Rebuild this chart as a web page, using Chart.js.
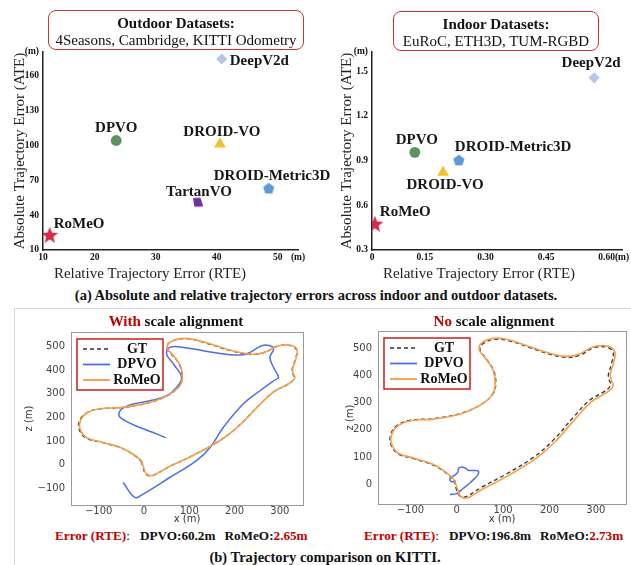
<!DOCTYPE html>
<html>
<head>
<meta charset="utf-8">
<script src="https://cdn.jsdelivr.net/npm/chart.js@4.4.0/dist/chart.umd.min.js"></script>
<style>
  body { margin: 0; background: #fff; }
  #page { position: relative; width: 631px; height: 565px; overflow: hidden; background: #fff;
          font-family: "Liberation Serif", "Times New Roman", serif; color: #111; }
  canvas { position: absolute; }
  .box { position: absolute; box-sizing: border-box; border: 1.5px solid #cc3333; border-radius: 8px; text-align: center; }
  .box .l1 { font-weight: bold; font-size: 15px; line-height: 17px; margin-top: 4px; }
  .box .l2 { font-size: 15px; line-height: 17px; }
  .t { position: absolute; white-space: nowrap; font-weight: bold; transform: translate(-50%, -50%); }
  .err { position: absolute; white-space: nowrap; font-weight: bold; font-size: 13.2px; transform: translateY(-50%); }
  .red { color: #c00000; }
  .plain { font-weight: normal; }
  #frame { position: absolute; left: 14px; top: 308px; width: 700px; height: 400px; border: 1px solid #d6d6d6; }
</style>
</head>
<body>
<div id="page">
  <div id="frame"></div>

  <canvas id="outdoor" width="345" height="285" style="left:0;top:0"></canvas>
  <canvas id="indoor" width="301" height="285" style="left:330px;top:0"></canvas>
  <canvas id="aligned" width="300" height="218" style="left:16px;top:310px"></canvas>
  <canvas id="raw" width="309" height="218" style="left:322px;top:310px"></canvas>

  <div class="box" style="left:48px;top:10px;width:256px;height:40px">
    <div class="l1">Outdoor Datasets:</div>
    <div class="l2">4Seasons, Cambridge, KITTI Odometry</div>
  </div>
  <div class="box" style="left:393px;top:11px;width:206px;height:40px">
    <div class="l1">Indoor Datasets:</div>
    <div class="l2">EuRoC, ETH3D, TUM-RGBD</div>
  </div>

  <div class="t" style="left:316px;top:295px;font-size:14.5px">(a) Absolute and relative trajectory errors across indoor and outdoor datasets.</div>

  <div class="t" style="left:176px;top:321px;font-size:15px"><span class="red">With</span> scale alignment</div>
  <div class="t" style="left:494px;top:321px;font-size:15px"><span class="red">No</span> scale alignment</div>

  <div class="err" style="left:55px;top:536px"><span class="red">Error (RTE)</span><span class="plain">:</span><span style="margin-left:10px">DPVO:60.2m</span><span style="margin-left:9px">RoMeO:<span class="red">2.65m</span></span></div>
  <div class="err" style="left:364px;top:536px"><span class="red">Error (RTE)</span><span class="plain">:</span><span style="margin-left:10px">DPVO:196.8m</span><span style="margin-left:9px">RoMeO:<span class="red">2.73m</span></span></div>

  <div class="t" style="left:325px;top:557px;font-size:14.5px">(b) Trajectory comparison on KITTI.</div>
</div>

<script>
// ---- (a) scatter data: RTE (x) vs ATE (y), metres ----
const methods = ['RoMeO', 'DPVO', 'DROID-VO', 'DROID-Metric3D', 'TartanVO', 'DeepV2d'];
const outdoorRTE = [12.6, 23.5, 40.5, 48.5, 36.9, 40.8];
const outdoorATE = [23, 104, 101, 63, 51, 174];
const indoorRTE = [0.026, 0.125, 0.195, 0.234, null, 0.569];
const indoorATE = [0.476, 0.955, 0.82, 0.903, null, 1.455];

// the figure's x axes start at a labelled origin that is not to scale
const outdoorXTicks = [11.5, 20, 30, 40, 50, 53.3];
const outdoorXLabels = ['10', '20', '30', '40', '50', '(m)'];
const outdoorYTicks = [10, 40, 70, 100, 130, 160, 180];
const outdoorYLabels = ['10', '40', '70', '100', '130', '160', '(m)'];
const indoorXTicks = [0.019, 0.15, 0.30, 0.45, 0.60, 0.638];
const indoorXLabels = ['0', '0.15', '0.30', '0.45', '0.60', '(m)'];
const indoorYTicks = [0.3, 0.6, 0.9, 1.2, 1.5, 1.628];
const indoorYLabels = ['0.3', '0.6', '0.9', '1.2', '1.5', '(m)'];

// ---- (b) KITTI trajectories, [x, z] in metres ----
const pathGT = [[-6,15],[-2,-12],[3,-36],[12,-47],[24,-42],[52,-12],[108,39],[166,100],[208,162],[252,247],
  [287,309],[317,339],[332,364],[328,385],[327,402],[334,444],[337,484],[323,503],[295,500],[266,474],
  [238,465],[194,480],[151,505],[108,528],[80,531],[57,516],[50,493],[61,466],[79,419],[84,364],
  [76,327],[50,290],[8,260],[-50,241],[-100,235],[-128,217],[-142,186],[-143,150],[-128,113],[-93,94],
  [-50,70],[-21,39],[-6,15]];
const pathRomeoAligned = [[-5,16],[-1,-11],[4,-35],[13,-46],[25,-41],[53,-11],[109,40],[167,101],[209,163],[253,248],
  [288,310],[318,340],[333,365],[329,386],[328,403],[335,445],[338,485],[324,504],[296,501],[267,475],
  [239,466],[195,481],[152,506],[109,529],[81,532],[58,517],[51,494],[62,467],[80,420],[85,365],
  [77,328],[51,291],[9,261],[-49,242],[-99,236],[-126,218],[-140,187],[-141,151],[-126,114],[-92,95],
  [-49,71],[-20,40],[-5,16]];
const pathDpvoAligned = [[-46,-75],[-20,-138],[-2,-124],[57,-54],[116,17],[146,73],[175,157],[219,256],[256,312],[286,354],
  [297,368],[286,410],[278,453],[286,488],[278,502],[260,502],[234,474],[219,464],[190,464],[131,481],
  [87,495],[57,495],[50,467],[65,425],[83,368],[72,326],[50,291],[13,270],[-24,256],[-49,235],
  [-55,207],[-42,186],[-9,157],[28,130],[48,113]];
const pathRomeoRaw = [[-5,14],[1,-14],[6,-39],[15,-50],[28,-46],[56,-17],[112,33],[170,94],[212,156],[256,241],
  [291,303],[321,334],[337,360],[333,383],[331,402],[338,445],[341,486],[325,507],[295,504],[265,478],
  [237,469],[193,484],[150,509],[107,532],[79,535],[55,520],[48,494],[60,466],[78,419],[83,364],
  [75,326],[49,289],[8,258],[-50,239],[-99,233],[-126,216],[-140,186],[-141,150],[-126,114],[-92,96],
  [-49,72],[-20,40],[-5,14]];
const pathDpvoRaw = [[-15,-37],[-1,-34],[13,-16],[27,3],[38,21],[46,37],[46,49],[34,51],[25,51],[19,59],
  [11,64],[4,59],[2,44],[-6,32],[-15,22],[-12,10],[-2,12]];
const trajXTicks = [-100, 0, 100, 200, 300];
const trajZTicksAligned = [-100, 0, 100, 200, 300, 400, 500];
const trajZTicksRaw = [0, 100, 200, 300, 400, 500];

// ---- styles ----
const SERIF = '"Liberation Serif", "Times New Roman", serif';
const SANS = '"DejaVu Sans", sans-serif';
const markerColor = {
  'RoMeO': '#d42a4c', 'DPVO': '#5e915e', 'DROID-VO': '#f2c12e',
  'DROID-Metric3D': '#5b9bd5', 'TartanVO': '#7030a0', 'DeepV2d': '#b4c6e7'
};
const outdoorLabelPos = {
  'RoMeO': [4, -11, 'left'], 'DPVO': [0, -12, 'center'], 'DROID-VO': [2, -12, 'center'],
  'DROID-Metric3D': [-55, -12, 'left'], 'TartanVO': [1, -10, 'center'], 'DeepV2d': [8, 2, 'left']
};
const indoorLabelPos = {
  'RoMeO': [5, -12, 'left'], 'DPVO': [2, -12, 'center'], 'DROID-VO': [2, 13, 'center'],
  'DROID-Metric3D': [-4, -13, 'left'], 'DeepV2d': [-3, -15, 'center']
};

function polyImage(pts, color, w, h) {
  const c = document.createElement('canvas');
  c.width = w; c.height = h;
  const g = c.getContext('2d');
  g.fillStyle = color;
  g.beginPath();
  pts.forEach((p, i) => i ? g.lineTo(p[0] + w / 2, p[1] + h / 2) : g.moveTo(p[0] + w / 2, p[1] + h / 2));
  g.closePath();
  g.fill();
  return c;
}
function ringPoints(n, R, r) {
  const pts = [];
  const k = r ? n * 2 : n;
  for (let i = 0; i < k; i++) {
    const a = -Math.PI / 2 + i * 2 * Math.PI / k;
    const rad = (r && i % 2) ? r : R;
    pts.push([rad * Math.cos(a), rad * Math.sin(a)]);
  }
  return pts;
}
function marker(m) {
  const c = markerColor[m];
  if (m === 'RoMeO') return { style: polyImage(ringPoints(5, 8.8, 3.8).map(p => [p[0], p[1] + 0.8]), c, 20, 20), r: 8 };
  if (m === 'DROID-Metric3D') return { style: polyImage(ringPoints(5, 5.9).map(p => [p[0], p[1] + 0.5]), c, 14, 14), r: 6 };
  if (m === 'TartanVO') return { style: polyImage([[-5, -4.3], [2.5, -4.6], [5.2, 4.2], [-3.6, 4.5]], c, 12, 12), r: 5 };
  if (m === 'DPVO') return { style: 'circle', r: 5.4 };
  if (m === 'DROID-VO') return { style: 'triangle', r: 6.8 };
  return { style: 'rectRot', r: 5.6 };
}

function setTicks(values) {
  return scale => { scale.ticks = values.map(v => ({ value: v })); };
}
function fixSize(w, h) {
  return scale => {
    if (w != null) scale.width = w;
    if (h != null) scale.height = h;
    scale.paddingLeft = scale.paddingRight = scale.paddingTop = scale.paddingBottom = 0;
  };
}

const pointLabels = {
  id: 'pointLabels',
  afterDatasetsDraw(chart, args, opts) {
    const ctx = chart.ctx;
    ctx.save();
    ctx.font = 'bold 15px ' + SERIF;
    ctx.fillStyle = '#161616';
    ctx.textBaseline = 'middle';
    chart.data.datasets.forEach((ds, i) => {
      const el = chart.getDatasetMeta(i).data[0];
      const o = opts.pos[ds.label];
      if (!el || !o) return;
      ctx.textAlign = o[2];
      ctx.fillText(ds.label, el.x + o[0], el.y + o[1]);
    });
    ctx.restore();
  }
};
const xTitle = {
  id: 'xTitle',
  afterDraw(chart, args, opts) {
    const ctx = chart.ctx;
    ctx.save();
    ctx.font = '15px ' + SERIF;
    ctx.fillStyle = '#222';
    ctx.textAlign = 'center';
    ctx.textBaseline = 'alphabetic';
    ctx.fillText(opts.text, chart.chartArea.left + opts.dx, opts.y);
    ctx.restore();
  }
};

function tickFont(size) { return { family: SERIF, size: size, weight: 'bold' }; }

function scatterChart(id, xs, ys, xT, xL, yT, yL, labelPos, pad, yW, yTitlePad) {
  const datasets = [];
  methods.forEach((m, i) => {
    if (xs[i] == null) return;
    const mk = marker(m);
    datasets.push({
      label: m, data: [{ x: xs[i], y: ys[i] }],
      pointStyle: mk.style, pointRadius: mk.r, pointHoverRadius: mk.r,
      backgroundColor: markerColor[m], borderColor: markerColor[m], borderWidth: 0
    });
  });
  return new Chart(document.getElementById(id), {
    type: 'scatter',
    data: { datasets },
    options: {
      responsive: false, animation: false, devicePixelRatio: 1,
      layout: { padding: pad },
      plugins: {
        legend: { display: false }, tooltip: { enabled: false },
        pointLabels: { pos: labelPos },
        xTitle: { text: 'Relative Trajectory Error (RTE)', dx: 107, y: 278 }
      },
      scales: {
        x: {
          type: 'linear', min: xT[0], max: xT[xT.length - 1],
          afterBuildTicks: setTicks(xT), afterFit: fixSize(null, 35),
          grid: { display: false, drawTicks: false },
          border: { display: true, color: '#222', width: 1.5 },
          ticks: { autoSkip: false, maxRotation: 0, padding: 2, color: '#111', font: tickFont(9.5),
                   callback: (v, i) => xL[i] }
        },
        y: {
          type: 'linear', min: yT[0], max: yT[yT.length - 1],
          afterBuildTicks: setTicks(yT), afterFit: fixSize(yW, null),
          grid: { display: false, drawTicks: false },
          border: { display: true, color: '#222', width: 1.5 },
          ticks: { autoSkip: false, padding: 4, color: '#111', font: tickFont(9.5),
                   callback: (v, i) => yL[i] },
          title: { display: true, text: 'Absolute Trajectory Error (ATE)', color: '#222',
                   font: { family: SERIF, size: 15 }, padding: { top: yTitlePad, bottom: 0 } }
        }
      }
    },
    plugins: [pointLabels, xTitle]
  });
}

const frame = {
  id: 'frame',
  afterDraw(chart) {
    const { ctx, chartArea: a } = chart;
    ctx.save();
    ctx.strokeStyle = '#9a9a9a';
    ctx.lineWidth = 1;
    ctx.strokeRect(Math.round(a.left) + 0.5, Math.round(a.top) + 0.5, Math.round(a.width), Math.round(a.height));
    ctx.restore();
  }
};
const boxLegend = {
  id: 'boxLegend',
  afterDraw(chart) {
    const { ctx, chartArea: a } = chart;
    const x0 = a.left + 6, y0 = a.top + 7, w = 86, h = 51;
    ctx.save();
    ctx.fillStyle = '#fff';
    ctx.fillRect(x0, y0, w, h);
    ctx.strokeStyle = '#c81e1e';
    ctx.lineWidth = 1.5;
    ctx.strokeRect(x0, y0, w, h);
    chart.data.datasets.forEach((ds, i) => {
      const y = y0 + 10 + i * 15.5;
      ctx.strokeStyle = ds.borderColor;
      ctx.lineWidth = ds.borderWidth + 0.3;
      ctx.setLineDash(ds.borderDash || []);
      ctx.beginPath();
      ctx.moveTo(x0 + 6, y);
      ctx.lineTo(x0 + 33, y);
      ctx.stroke();
      ctx.setLineDash([]);
      ctx.fillStyle = '#111';
      ctx.font = 'bold 14px ' + SERIF;
      ctx.textAlign = 'center';
      ctx.textBaseline = 'middle';
      ctx.fillText(ds.label, x0 + 60, y);
    });
    ctx.restore();
  }
};

function toXY(path) { return path.map(p => ({ x: p[0], y: p[1] })); }
function minusLabel(v) { return v < 0 ? '\u2212' + Math.abs(v) : String(v); }

function trajChart(id, dpvo, romeo, xr, zr, zTicks, pad, yW, xH, yTitlePad, xTitlePad) {
  return new Chart(document.getElementById(id), {
    type: 'scatter',
    data: {
      datasets: [
        { label: 'GT', data: toXY(pathGT), showLine: true, borderColor: '#333', borderWidth: 1.3,
          borderDash: [4, 3], pointRadius: 0, tension: 0.4, order: 3 },
        { label: 'DPVO', data: toXY(dpvo), showLine: true, borderColor: '#4b6fe6', borderWidth: 1.5,
          pointRadius: 0, tension: 0.4, order: 2 },
        { label: 'RoMeO', data: toXY(romeo), showLine: true, borderColor: '#f6a04d', borderWidth: 1.6,
          pointRadius: 0, tension: 0.4, order: 1 }
      ]
    },
    options: {
      responsive: false, animation: false, devicePixelRatio: 1,
      layout: { padding: pad },
      plugins: { legend: { display: false }, tooltip: { enabled: false } },
      scales: {
        x: {
          type: 'linear', min: xr[0], max: xr[1],
          afterBuildTicks: setTicks(trajXTicks), afterFit: fixSize(null, xH),
          grid: { display: false, drawTicks: false }, border: { display: false },
          ticks: { autoSkip: false, maxRotation: 0, padding: 0, color: '#444',
                   font: { family: SANS, size: 10 }, callback: v => minusLabel(v) },
          title: { display: true, text: 'x (m)', color: '#333', font: { family: SANS, size: 10 },
                   padding: { top: 0, bottom: xTitlePad } }
        },
        y: {
          type: 'linear', min: zr[0], max: zr[1],
          afterBuildTicks: setTicks(zTicks), afterFit: fixSize(yW, null),
          grid: { display: false, drawTicks: false }, border: { display: false },
          ticks: { autoSkip: false, padding: 6, color: '#444',
                   font: { family: SANS, size: 10 }, callback: v => minusLabel(v) },
          title: { display: true, text: 'z (m)', color: '#333', font: { family: SANS, size: 10 },
                   padding: { top: yTitlePad, bottom: 0 } }
        }
      }
    },
    plugins: [frame, boxLegend]
  });
}

scatterChart('outdoor', outdoorRTE, outdoorATE, outdoorXTicks, outdoorXLabels, outdoorYTicks, outdoorYLabels,
  outdoorLabelPos, { left: 0, top: 52, right: 47, bottom: 0 }, 43, 11);
scatterChart('indoor', indoorRTE, indoorATE, indoorXTicks, indoorXLabels, indoorYTicks, indoorYLabels,
  indoorLabelPos, { left: 0, top: 52, right: 9, bottom: 0 }, 42, 8);

trajChart('aligned', pathDpvoAligned, pathRomeoAligned, [-161, 351], [-170, 560], trajZTicksAligned,
  { left: 0, top: 22, right: 13, bottom: 0 }, 55, 23, 7, 3);
trajChart('raw', pathDpvoRaw, pathRomeoRaw, [-170, 365], [-72, 562], trajZTicksRaw,
  { left: 0, top: 21, right: 5, bottom: 0 }, 56, 24, 22, 3);
</script>
</body>
</html>
